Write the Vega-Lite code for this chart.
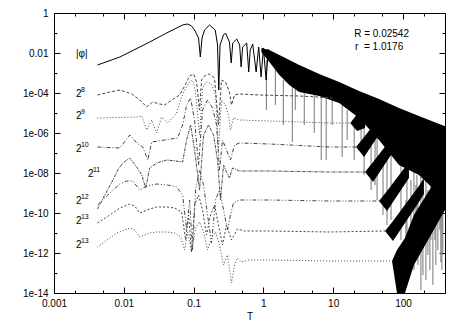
{
 "$schema": "https://vega.github.io/schema/vega-lite/v6.json",
 "width": 391,
 "height": 280,
 "autosize": {"type": "none"},
 "padding": {"left": 54, "top": 13, "right": 18, "bottom": 32},
 "background": "white",
 "config": {
  "view": {"stroke": "#000", "strokeWidth": 1},
  "axis": {"domain": false, "grid": false, "labelFont": "Liberation Sans", "labelFontSize": 10, "labelColor": "#000", "tickColor": "#000", "tickWidth": 1, "titleFont": "Liberation Sans", "titleFontSize": 10, "titleFontWeight": "normal", "titleColor": "#000", "labelOverlap": false, "labelFlush": false, "zindex": 1}
 },
 "resolve": {"axis": {"x": "independent", "y": "independent"}},
 "datasets": {
  "phi": [
   {"T":0.0042,"v":0.002512},{"T":0.00877,"v":0.00631},{"T":0.01694,"v":0.01995},{"T":0.0235,"v":0.03548},
   {"T":0.04111,"v":0.1},{"T":0.06966,"v":0.2512},{"T":0.08199,"v":0.2818},{"T":0.0935,"v":0.2239},
   {"T":0.1033,"v":0.1413},{"T":0.1178,"v":0.05623},{"T":0.1248,"v":0.00631},{"T":0.1321,"v":0.05623},
   {"T":0.1435,"v":0.1413},{"T":0.1694,"v":0.2512},{"T":0.2042,"v":0.1413},{"T":0.2203,"v":0.02512},
   {"T":0.2296,"v":0.0001413},{"T":0.2393,"v":0.02512},{"T":0.2685,"v":0.07943},{"T":0.2864,"v":0.1},
   {"T":0.3266,"v":0.03548},{"T":0.346,"v":0.003162},{"T":0.3639,"v":0.03162},{"T":0.4159,"v":0.0501},
   {"T":0.4571,"v":0.02512},{"T":0.4797,"v":0.001995},{"T":0.5047,"v":0.01995},{"T":0.5768,"v":0.03162},
   {"T":0.6166,"v":0.001122},{"T":0.6471,"v":0.01413},{"T":0.7031,"v":0.02818},{"T":0.787,"v":0.001122},
   {"T":0.857,"v":0.01995},{"T":0.927,"v":0.000631},{"T":1.0,"v":0.01778},{"T":1.094,"v":0.0004467},
   {"T":1.178,"v":0.01585}
  ],
  "curves": [
   {"s":"8","T":0.0042,"v":7.943e-5},{"s":"8","T":0.00631,"v":1.122e-4},{"s":"8","T":0.00877,"v":1.413e-4},{"s":"8","T":0.01301,"v":8.913e-5},{"s":"8","T":0.01694,"v":4.467e-5},{"s":"8","T":0.02133,"v":1.995e-5},{"s":"8","T":0.02594,"v":3.548e-5},{"s":"8","T":0.03266,"v":2.818e-5},{"s":"8","T":0.03855,"v":2.512e-5},{"s":"8","T":0.0485,"v":4.467e-5},{"s":"8","T":0.0631,"v":7.943e-5},{"s":"8","T":0.0743,"v":2.239e-4},{"s":"8","T":0.0877,"v":7.079e-4},{"s":"8","T":0.1,"v":8.913e-4},{"s":"8","T":0.1104,"v":3.548e-4},{"s":"8","T":0.1218,"v":1.413e-5},{"s":"8","T":0.1301,"v":4.467e-4},{"s":"8","T":0.1483,"v":7.943e-4},{"s":"8","T":0.1694,"v":8.913e-4},{"s":"8","T":0.1995,"v":5.623e-4},{"s":"8","T":0.2275,"v":2.512e-6},{"s":"8","T":0.2512,"v":4.467e-4},{"s":"8","T":0.2864,"v":3.548e-4},{"s":"8","T":0.3266,"v":1.122e-4},{"s":"8","T":0.349,"v":2.512e-5},{"s":"8","T":0.3855,"v":7.943e-5},{"s":"8","T":0.4539,"v":8.913e-5},{"s":"8","T":0.8768,"v":7.943e-5},{"s":"8","T":3.266,"v":7.079e-5},{"s":"8","T":10.33,"v":5.623e-5},
   {"s":"9","T":0.0042,"v":5.623e-6},{"s":"9","T":0.01533,"v":6.31e-6},{"s":"9","T":0.01807,"v":7.079e-6},{"s":"9","T":0.02133,"v":1.413e-6},{"s":"9","T":0.02512,"v":4.467e-6},{"s":"9","T":0.02961,"v":1e-6},{"s":"9","T":0.0349,"v":6.31e-6},{"s":"9","T":0.04253,"v":3.162e-6},{"s":"9","T":0.05715,"v":1e-5},{"s":"9","T":0.0674,"v":6.31e-5},{"s":"9","T":0.07686,"v":1.778e-4},{"s":"9","T":0.0877,"v":3.548e-4},{"s":"9","T":0.09676,"v":4.467e-4},{"s":"9","T":0.1068,"v":1.122e-4},{"s":"9","T":0.1218,"v":7.943e-7},{"s":"9","T":0.1345,"v":1.778e-4},{"s":"9","T":0.1533,"v":3.548e-4},{"s":"9","T":0.1807,"v":2.818e-4},{"s":"9","T":0.2063,"v":7.943e-5},{"s":"9","T":0.2275,"v":1.413e-7},{"s":"9","T":0.2512,"v":4.467e-5},{"s":"9","T":0.2864,"v":2.512e-5},{"s":"9","T":0.3162,"v":7.943e-6},{"s":"9","T":0.3378,"v":1.413e-6},{"s":"9","T":0.3727,"v":5.623e-6},{"s":"9","T":0.4539,"v":4.467e-6},{"s":"9","T":1.219,"v":3.981e-6},{"s":"9","T":8.77,"v":3.162e-6},{"s":"9","T":18.68,"v":3.162e-6},
   {"s":"10","T":0.0042,"v":1.995e-7},{"s":"10","T":0.00877,"v":1.778e-7},{"s":"10","T":0.01219,"v":7.943e-7},{"s":"10","T":0.01533,"v":3.162e-7},{"s":"10","T":0.01868,"v":1.995e-7},{"s":"10","T":0.02203,"v":4.467e-8},{"s":"10","T":0.02512,"v":3.548e-7},{"s":"10","T":0.03855,"v":4.467e-7},{"s":"10","T":0.0591,"v":5.623e-7},{"s":"10","T":0.06966,"v":2.512e-6},{"s":"10","T":0.07943,"v":2.512e-5},{"s":"10","T":0.09061,"v":5.623e-5},{"s":"10","T":0.1033,"v":4.467e-6},{"s":"10","T":0.1178,"v":2.512e-8},{"s":"10","T":0.1345,"v":1.413e-5},{"s":"10","T":0.1585,"v":4.467e-5},{"s":"10","T":0.1868,"v":1.778e-5},{"s":"10","T":0.2132,"v":2.512e-6},{"s":"10","T":0.2351,"v":1.413e-8},{"s":"10","T":0.2596,"v":4.467e-7},{"s":"10","T":0.2961,"v":1.413e-7},{"s":"10","T":0.3378,"v":4.467e-8},{"s":"10","T":0.3855,"v":2.512e-7},{"s":"10","T":0.4539,"v":3.162e-7},{"s":"10","T":1.219,"v":2.818e-7},{"s":"10","T":8.77,"v":1.995e-7},{"s":"10","T":23.51,"v":1.995e-7},
   {"s":"11","T":0.0042,"v":1.585e-10},{"s":"11","T":0.005354,"v":7.943e-10},{"s":"11","T":0.00674,"v":3.548e-9},{"s":"11","T":0.00821,"v":1.413e-8},{"s":"11","T":0.00968,"v":3.162e-8},{"s":"11","T":0.01219,"v":5.623e-8},{"s":"11","T":0.01533,"v":1.995e-8},{"s":"11","T":0.01807,"v":7.943e-9},{"s":"11","T":0.02062,"v":1.778e-9},{"s":"11","T":0.0235,"v":1.778e-8},{"s":"11","T":0.02961,"v":3.162e-8},{"s":"11","T":0.04111,"v":4.467e-8},{"s":"11","T":0.05534,"v":3.981e-8},{"s":"11","T":0.06966,"v":3.548e-8},{"s":"11","T":0.07943,"v":4.467e-7},{"s":"11","T":0.09061,"v":2.512e-6},{"s":"11","T":0.1033,"v":1.413e-7},{"s":"11","T":0.1218,"v":1.413e-9},{"s":"11","T":0.139,"v":7.943e-7},{"s":"11","T":0.1638,"v":2.512e-6},{"s":"11","T":0.1931,"v":7.943e-7},{"s":"11","T":0.2203,"v":4.467e-8},{"s":"11","T":0.243,"v":4.467e-10},{"s":"11","T":0.2685,"v":2.512e-8},{"s":"11","T":0.2961,"v":1.122e-8},{"s":"11","T":0.3266,"v":5.623e-9},{"s":"11","T":0.3606,"v":1.778e-8},{"s":"11","T":0.4539,"v":1.259e-8},{"s":"11","T":1.219,"v":1.259e-8},{"s":"11","T":8.77,"v":1.122e-8},{"s":"11","T":30.6,"v":1.122e-8},
   {"s":"12","T":0.0042,"v":2.512e-10},{"s":"12","T":0.00631,"v":1e-9},{"s":"12","T":0.00877,"v":2.818e-9},{"s":"12","T":0.01104,"v":3.981e-9},{"s":"12","T":0.01345,"v":3.981e-9},{"s":"12","T":0.01694,"v":1.413e-9},{"s":"12","T":0.02133,"v":2.239e-9},{"s":"12","T":0.02961,"v":2.818e-9},{"s":"12","T":0.04253,"v":2.512e-9},{"s":"12","T":0.05715,"v":1.995e-9},{"s":"12","T":0.06966,"v":7.943e-10},{"s":"12","T":0.07943,"v":1.413e-11},{"s":"12","T":0.0877,"v":4.467e-10},{"s":"12","T":0.09676,"v":1.413e-12},{"s":"12","T":0.1068,"v":1.413e-9},{"s":"12","T":0.1218,"v":1.413e-8},{"s":"12","T":0.139,"v":2.512e-9},{"s":"12","T":0.1585,"v":7.943e-11},{"s":"12","T":0.1807,"v":3.162e-12},{"s":"12","T":0.2063,"v":4.467e-10},{"s":"12","T":0.2351,"v":1.413e-9},{"s":"12","T":0.2685,"v":1.413e-10},{"s":"12","T":0.3062,"v":1.413e-11},{"s":"12","T":0.3378,"v":7.943e-11},{"s":"12","T":0.3727,"v":3.162e-10},{"s":"12","T":0.4539,"v":4.467e-10},{"s":"12","T":1.219,"v":4.467e-10},{"s":"12","T":8.77,"v":3.981e-10},{"s":"12","T":45.4,"v":3.981e-10},
   {"s":"13","T":0.0042,"v":3.162e-11},{"s":"13","T":0.00631,"v":7.943e-11},{"s":"13","T":0.00877,"v":1.778e-10},{"s":"13","T":0.01219,"v":2.818e-10},{"s":"13","T":0.01436,"v":2.239e-10},{"s":"13","T":0.01694,"v":1e-10},{"s":"13","T":0.0235,"v":1.585e-10},{"s":"13","T":0.02961,"v":1.995e-10},{"s":"13","T":0.04111,"v":1.995e-10},{"s":"13","T":0.05358,"v":1.778e-10},{"s":"13","T":0.0674,"v":1.122e-10},{"s":"13","T":0.07686,"v":4.467e-12},{"s":"13","T":0.08483,"v":7.943e-11},{"s":"13","T":0.0935,"v":1.122e-12},{"s":"13","T":0.1033,"v":2.512e-10},{"s":"13","T":0.1178,"v":7.943e-10},{"s":"13","T":0.1345,"v":1.413e-10},{"s":"13","T":0.1533,"v":7.943e-12},{"s":"13","T":0.1749,"v":7.943e-11},{"s":"13","T":0.1995,"v":2.512e-10},{"s":"13","T":0.2275,"v":2.512e-11},{"s":"13","T":0.2596,"v":2.512e-12},{"s":"13","T":0.2961,"v":2.512e-11},{"s":"13","T":0.349,"v":4.467e-12},{"s":"13","T":0.4253,"v":1.585e-11},{"s":"13","T":0.5358,"v":1.259e-11},{"s":"13","T":1.219,"v":1.259e-11},{"s":"13","T":8.77,"v":1.122e-11},{"s":"13","T":55.34,"v":1.259e-11},
   {"s":"13b","T":0.0042,"v":1.995e-12},{"s":"13b","T":0.007943,"v":1e-11},{"s":"13b","T":0.01219,"v":1.778e-11},{"s":"13b","T":0.01436,"v":1.413e-11},{"s":"13b","T":0.01694,"v":6.31e-12},{"s":"13b","T":0.0235,"v":1e-11},{"s":"13b","T":0.02961,"v":1.122e-11},{"s":"13b","T":0.04111,"v":1.122e-11},{"s":"13b","T":0.05358,"v":1e-11},{"s":"13b","T":0.06521,"v":6.31e-12},{"s":"13b","T":0.0743,"v":1.413e-12},{"s":"13b","T":0.08199,"v":1.122e-11},{"s":"13b","T":0.0935,"v":1.122e-12},{"s":"13b","T":0.1068,"v":1.778e-11},{"s":"13b","T":0.1218,"v":3.548e-11},{"s":"13b","T":0.139,"v":1.122e-11},{"s":"13b","T":0.1585,"v":1.413e-12},{"s":"13b","T":0.1807,"v":5.623e-12},{"s":"13b","T":0.2063,"v":1.122e-11},{"s":"13b","T":0.2351,"v":2.512e-12},{"s":"13b","T":0.2685,"v":2.512e-13},{"s":"13b","T":0.3062,"v":7.943e-13},{"s":"13b","T":0.349,"v":3.162e-14},{"s":"13b","T":0.3855,"v":2.512e-13},{"s":"13b","T":0.4253,"v":5.623e-13},{"s":"13b","T":0.485,"v":3.548e-13},{"s":"13b","T":0.631,"v":4.467e-13},{"s":"13b","T":1.219,"v":4.467e-13},{"s":"13b","T":8.77,"v":3.981e-13},{"s":"13b","T":69.66,"v":3.981e-13}
  ],
  "band": [
   {"g":"band","T":0.9363,"lo":0.01122,"hi":0.01778},{"g":"band","T":1.219,"lo":0.003548,"hi":0.01413},{"g":"band","T":1.692,"lo":7.943e-4,"hi":0.007943},{"g":"band","T":2.351,"lo":2.512e-4,"hi":0.004467},{"g":"band","T":3.266,"lo":1.122e-4,"hi":0.002512},{"g":"band","T":6.31,"lo":7.079e-5,"hi":8.913e-4},{"g":"band","T":12.18,"lo":3.162e-5,"hi":3.548e-4},{"g":"band","T":23.51,"lo":5.623e-6,"hi":1.259e-4},{"g":"band","T":45.4,"lo":4.467e-7,"hi":5.012e-5},{"g":"band","T":87.7,"lo":2.512e-8,"hi":1.778e-5},{"g":"band","T":169.2,"lo":7.943e-9,"hi":7.079e-6},{"g":"band","T":400,"lo":4.467e-10,"hi":2.2e-6},
   {"g":"F9","T":17.5,"lo":3.2e-6,"hi":3.1e-6},{"g":"F9","T":22.03,"lo":1.259e-6,"hi":8.913e-6},{"g":"F9","T":28.65,"lo":1.778e-6,"hi":1.122e-5},
   {"g":"F10","T":21.31,"lo":2.0e-7,"hi":1.99e-7},{"g":"F10","T":27.73,"lo":6.31e-8,"hi":6.31e-7},{"g":"F10","T":45.4,"lo":8.414e-7,"hi":5.623e-6},
   {"g":"F11","T":28.65,"lo":1.13e-8,"hi":1.12e-8},{"g":"F11","T":37.28,"lo":3.548e-9,"hi":3.548e-8},{"g":"F11","T":67.4,"lo":7.943e-8,"hi":5.012e-7},
   {"g":"F12","T":45.4,"lo":4.0e-10,"hi":3.97e-10},{"g":"F12","T":59.08,"lo":1.259e-10,"hi":1.259e-9},{"g":"F12","T":121.8,"lo":5.623e-9,"hi":3.548e-8},
   {"g":"F13","T":55.34,"lo":1.26e-11,"hi":1.25e-11},{"g":"F13","T":71.95,"lo":3.981e-12,"hi":3.981e-11},{"g":"F13","T":169.2,"lo":3.548e-10,"hi":2.239e-9},{"g":"F13","T":199.5,"lo":8.913e-10,"hi":5.623e-9},
   {"g":"F13b","T":69.66,"lo":4.0e-13,"hi":3.97e-13},{"g":"F13b","T":82.09,"lo":1e-14,"hi":1.413e-12},{"g":"F13b","T":106.8,"lo":1e-14,"hi":5.623e-12},{"g":"F13b","T":143.6,"lo":2.512e-13,"hi":7.943e-11},{"g":"F13b","T":400,"lo":1.413e-10,"hi":2.512e-8}
  ],
  "spikes": [
   {"T":1.104,"top":0.004467,"bot":1.413e-5},{"T":1.484,"top":0.001413,"bot":2.512e-5},{"T":1.931,"top":4.467e-4,"bot":2.512e-6},{"T":2.596,"top":2.512e-4,"bot":3.548e-7},{"T":2.865,"top":2.512e-4,"bot":1.413e-5},{"T":3.853,"top":1.122e-4,"bot":2.512e-6},{"T":5.354,"top":7.943e-5,"bot":1e-6},{"T":6.74,"top":7.079e-5,"bot":4.467e-8},{"T":7.943,"top":5.623e-5,"bot":4.467e-8},{"T":9.676,"top":4.467e-5,"bot":2.512e-6},{"T":13.45,"top":2.512e-5,"bot":6.31e-8},{"T":15.85,"top":1.413e-5,"bot":4.467e-7},{"T":20,"top":4.467e-6,"bot":4.467e-8},{"T":25.12,"top":2.512e-6,"bot":1.413e-7},{"T":27.73,"top":4.467e-6,"bot":7.943e-9},{"T":34.9,"top":1.413e-6,"bot":1.413e-9},{"T":39.81,"top":4.467e-7,"bot":2.512e-9},{"T":42.53,"top":7.943e-7,"bot":4.467e-10},{"T":51.8,"top":1.413e-7,"bot":7.943e-11},{"T":59.08,"top":4.467e-8,"bot":2.512e-11},{"T":67.4,"top":7.943e-8,"bot":4.467e-11},{"T":93.63,"top":2.512e-8,"bot":4.467e-12},{"T":110.4,"top":4.467e-10,"bot":1.413e-13},{"T":114,"top":1.413e-8,"bot":2.512e-14},{"T":130.1,"top":4.467e-9,"bot":4.467e-13},{"T":143.6,"top":1.122e-8,"bot":1.413e-13},{"T":153.3,"top":2.512e-9,"bot":2.512e-12},{"T":158.5,"top":7.943e-9,"bot":1.413e-12},{"T":163.8,"top":7.943e-10,"bot":2.512e-13},{"T":180.7,"top":7.943e-9,"bot":1.413e-14},{"T":193.1,"top":1.413e-9,"bot":7.943e-14},{"T":206.2,"top":4.467e-10,"bot":2.512e-12},{"T":213.1,"top":5.623e-9,"bot":4.467e-14},{"T":227.6,"top":1.413e-9,"bot":7.943e-13},{"T":243.1,"top":4.467e-10,"bot":1.413e-13},{"T":251.2,"top":4.467e-9,"bot":4.467e-12},{"T":268.3,"top":7.943e-10,"bot":2.512e-14},{"T":286.5,"top":4.467e-10,"bot":4.467e-12},{"T":296.1,"top":2.512e-9,"bot":2.512e-13},{"T":316.2,"top":7.943e-10,"bot":1.413e-12},{"T":337.8,"top":1.778e-9,"bot":1.413e-11},{"T":349,"top":2.512e-10,"bot":3.548e-13},{"T":360.6,"top":4.467e-10,"bot":1.413e-13},{"T":372.7,"top":1.413e-9,"bot":7.943e-13}
  ],
  "labels": [
   {"T":0.00206,"v":6.31e-5,"b":"2","e":"8"},{"T":0.00206,"v":5.012e-6,"b":"2","e":"9"},{"T":0.00206,"v":1.122e-7,"b":"2","e":"10"},{"T":0.00306,"v":6.31e-9,"b":"2","e":"11"},{"T":0.00206,"v":2.818e-10,"b":"2","e":"12"},{"T":0.00206,"v":2.818e-11,"b":"2","e":"13"},{"T":0.00206,"v":1.778e-12,"b":"2","e":"13"}
  ],
  "notes": [
   {"T":0.00206,"v":0.00631,"t":"|φ|"},{"T":20,"v":0.0631,"t":"R = 0.02542"},{"T":20.62,"v":0.01413,"t":"r\u00a0\u00a0= 1.0176"}
  ]
 },
 "layer": [
  {"data": {"name": "spikes"},
   "mark": {"type": "rule", "color": "#777", "strokeWidth": 1, "clip": true},
   "encoding": {
    "x": {"field": "T", "type": "quantitative", "scale": {"type": "log", "domain": [0.001, 400], "nice": false}, "axis": {"orient": "top", "values": [0.001,0.01,0.1,1,10,100], "tickSize": -6, "labels": false, "title": null}},
    "y": {"field": "top", "type": "quantitative", "scale": {"type": "log", "domain": [1e-14, 1], "nice": false}, "axis": {"orient": "right", "values": [1,0.01,1e-4,1e-6,1e-8,1e-10,1e-12,1e-14], "tickSize": -6, "labels": false, "title": null}},
    "y2": {"field": "bot"}
   }},
  {"data": {"name": "band"},
   "mark": {"type": "area", "color": "#000", "opacity": 1, "clip": true},
   "encoding": {
    "x": {"field": "T", "type": "quantitative", "scale": {"type": "log", "domain": [0.001, 400], "nice": false}, "axis": {"orient": "top", "values": [0.002,0.005,0.02,0.05,0.2,0.5,2,5,20,50,200], "tickSize": -3, "labels": false, "title": null}},
    "y": {"field": "lo", "type": "quantitative", "scale": {"type": "log", "domain": [1e-14, 1], "nice": false}, "axis": {"orient": "right", "values": [0.1,1e-3,1e-5,1e-7,1e-9,1e-11,1e-13], "tickSize": -3, "labels": false, "title": null}},
    "y2": {"field": "hi"},
    "detail": {"field": "g", "type": "nominal"}
   }},
  {"data": {"name": "curves"},
   "mark": {"type": "line", "color": "#444", "strokeWidth": 1, "clip": true},
   "encoding": {
    "x": {"field": "T", "type": "quantitative", "scale": {"type": "log", "domain": [0.001, 400], "nice": false}, "axis": {"orient": "bottom", "values": [0.001,0.01,0.1,1,10,100], "tickSize": -6, "labels": false, "title": null}},
    "y": {"field": "v", "type": "quantitative", "scale": {"type": "log", "domain": [1e-14, 1], "nice": false}, "axis": {"orient": "left", "values": [1,0.01,1e-4,1e-6,1e-8,1e-10,1e-12,1e-14], "tickSize": -6, "labels": false, "title": null}},
    "strokeDash": {"field": "s", "type": "nominal", "scale": {"domain": ["8","9","10","11","12","13","13b"], "range": [[3,2],[1,2],[4,2,1,2],[3,1,1,1],[4,2,1,2,1,2],[2,2],[1,2]]}, "legend": null}
   }},
  {"data": {"name": "phi"},
   "mark": {"type": "line", "color": "#000", "strokeWidth": 1, "clip": true},
   "encoding": {
    "x": {"field": "T", "type": "quantitative", "scale": {"type": "log", "domain": [0.001, 400], "nice": false}, "axis": {"orient": "bottom", "values": [0.002,0.005,0.02,0.05,0.2,0.5,2,5,20,50,200], "tickSize": -3, "labels": false, "title": null}},
    "y": {"field": "v", "type": "quantitative", "scale": {"type": "log", "domain": [1e-14, 1], "nice": false}, "axis": {"orient": "left", "values": [0.1,1e-3,1e-5,1e-7,1e-9,1e-11,1e-13], "tickSize": -3, "labels": false, "title": null}}
   }},
  {"data": {"name": "labels"},
   "mark": {"type": "text", "align": "left", "baseline": "alphabetic", "font": "Liberation Sans", "fontSize": 10, "color": "#000"},
   "encoding": {
    "x": {"field": "T", "type": "quantitative", "scale": {"type": "log", "domain": [0.001, 400], "nice": false}, "axis": {"orient": "bottom", "values": [0.001,0.01,0.1,1,10,100], "ticks": false, "labelPadding": 5, "format": "~g", "title": "T", "titlePadding": 3}},
    "y": {"field": "v", "type": "quantitative", "scale": {"type": "log", "domain": [1e-14, 1], "nice": false}, "axis": {"orient": "left", "values": [1,0.01,1e-4,1e-6,1e-8,1e-10,1e-12,1e-14], "ticks": false, "labelPadding": 6, "title": null, "labelExpr": "datum.value >= 0.005 ? format(datum.value, '~g') : '1e-' + format(round(-log(datum.value)/LN10), '02d')"}},
    "text": {"field": "b"}
   }},
  {"data": {"name": "labels"},
   "mark": {"type": "text", "align": "left", "baseline": "alphabetic", "font": "Liberation Sans", "fontSize": 7, "dx": 5, "dy": -5, "color": "#000"},
   "encoding": {
    "x": {"field": "T", "type": "quantitative", "scale": {"type": "log", "domain": [0.001, 400], "nice": false}, "axis": null},
    "y": {"field": "v", "type": "quantitative", "scale": {"type": "log", "domain": [1e-14, 1], "nice": false}, "axis": null},
    "text": {"field": "e"}
   }},
  {"data": {"name": "notes"},
   "mark": {"type": "text", "align": "left", "baseline": "alphabetic", "font": "Liberation Sans", "fontSize": 10, "color": "#000"},
   "encoding": {
    "x": {"field": "T", "type": "quantitative", "scale": {"type": "log", "domain": [0.001, 400], "nice": false}, "axis": null},
    "y": {"field": "v", "type": "quantitative", "scale": {"type": "log", "domain": [1e-14, 1], "nice": false}, "axis": null},
    "text": {"field": "t"}
   }}
 ]
}
